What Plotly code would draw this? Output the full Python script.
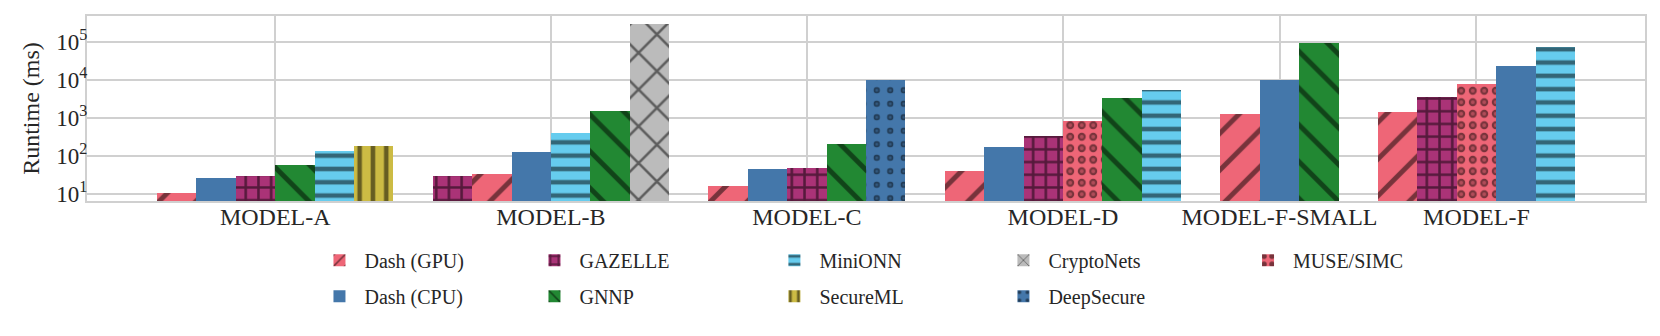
import plotly.graph_objects as go

# ---------------- data ----------------
categories = ["MODEL-A", "MODEL-B", "MODEL-C", "MODEL-D", "MODEL-F-SMALL", "MODEL-F"]

dash_gpu   = [10.6, 33, 16.2, 41, 1300, 1440]
dash_cpu   = [27, 130, 45.5, 169, 10000, 23300]
gazelle    = [30, 30, 49, 330, None, 3500]
gnnp       = [59, 1530, 211, 3360, 94000, None]
minionn    = [138, 395, None, 5560, None, 72400]
secureml   = [183, None, None, None, None, None]
cryptonets = [None, 290000, None, None, None, None]
deepsecure = [None, None, 10000, None, None, None]
muse_simc  = [None, None, None, 818, None, 7850]

series_names = ["Dash (GPU)", "Dash (CPU)", "GAZELLE", "GNNP", "MiniONN",
                "SecureML", "CryptoNets", "DeepSecure", "MUSE/SIMC"]
series_values = [dash_gpu, dash_cpu, gazelle, gnnp, minionn,
                 secureml, cryptonets, deepsecure, muse_simc]

y_tick_vals = [10, 100, 1000, 10000, 100000]
y_tick_text = ["10<sup>1</sup>", "10<sup>2</sup>", "10<sup>3</sup>", "10<sup>4</sup>", "10<sup>5</sup>"]

# ---------------- styles ----------------
colors = {
    "Dash (GPU)": "#EE6677", "Dash (CPU)": "#4477AA", "GAZELLE": "#AA3377",
    "GNNP": "#228833", "MiniONN": "#66CCEE", "SecureML": "#CCBB44",
    "CryptoNets": "#BBBBBB", "DeepSecure": "#4477AA", "MUSE/SIMC": "#EE6677",
}
patterns = {
    "Dash (GPU)": dict(shape="/", size=26, solidity=0.19),
    "Dash (CPU)": dict(shape=""),
    "GAZELLE":    dict(shape="+", size=12.7, solidity=0.36),
    "GNNP":       dict(shape="\\", size=26, solidity=0.19),
    "MiniONN":    dict(shape="-", size=13.3, solidity=0.34),
    "SecureML":   dict(shape="|", size=13.3, solidity=0.34),
    "CryptoNets": dict(shape="x", size=26, solidity=0.19),
    "DeepSecure": dict(shape=".", size=13.5, solidity=0.17),
    "MUSE/SIMC":  dict(shape=".", size=11.5, solidity=0.38),
}
# inner hole of the ring hatches
ring_holes = {
    "DeepSecure": dict(size=13.5, solidity=0.04),
    "MUSE/SIMC":  dict(size=11.5, solidity=0.09),
}
legend_columns = [["Dash (GPU)", "Dash (CPU)"], ["GAZELLE", "GNNP"],
                  ["MiniONN", "SecureML"], ["CryptoNets", "DeepSecure"], ["MUSE/SIMC"]]
legend_x = [0.146, 0.284, 0.438, 0.585, 0.742]

FONT = "Liberation Serif, Times New Roman, serif"
TXT = "#262626"
GRID = "#d0d0d0"

# ---------------- positions: bars sorted ascending inside each group ----------------
positions = {n: [None] * len(categories) for n in series_names}
tick_pos = []
start = 0
for gi, cat in enumerate(categories):
    present = [(series_values[si][gi], n) for si, n in enumerate(series_names)
               if series_values[si][gi] is not None]
    present.sort(key=lambda t: t[0])
    for rank, (v, n) in enumerate(present):
        positions[n][gi] = start + rank
    tick_pos.append(start + (len(present) - 1) / 2)
    start += len(present) + 1
last_bar = start - 2
pad = 1.78
x_range = [-0.5 - pad, last_bar + 0.5 + pad]

legend_of = {}
for ci, col in enumerate(legend_columns):
    for n in col:
        legend_of[n] = "legend" if ci == 0 else f"legend{ci + 1}"

fig = go.Figure()
for si, n in enumerate(series_names):
    xs = [positions[n][gi] for gi in range(len(categories)) if series_values[si][gi] is not None]
    ys = [series_values[si][gi] for gi in range(len(categories)) if series_values[si][gi] is not None]
    pat = dict(patterns[n])
    if pat.get("shape"):
        pat["fgcolor"] = "black"
    fig.add_trace(go.Bar(
        x=xs, y=ys, width=1, name=n, legend=legend_of[n], legendgroup=n,
        marker=dict(color=colors[n], line=dict(width=0), pattern=pat),
    ))
    if n in ring_holes:
        h = ring_holes[n]
        fig.add_trace(go.Bar(
            x=xs, y=ys, width=1, name=n, legend=legend_of[n], legendgroup=n, showlegend=False,
            hoverinfo="skip",
            marker=dict(color="rgba(0,0,0,0)", line=dict(width=0),
                        pattern=dict(shape=".", size=h["size"], solidity=h["solidity"],
                                     fgcolor=colors[n], bgcolor="rgba(0,0,0,0)",
                                     fillmode="overlay")),
        ))

legend_common = dict(
    orientation="v", xanchor="left", yanchor="top", y=-0.215,
    font=dict(family=FONT, size=20, color=TXT), bgcolor="rgba(0,0,0,0)",
    traceorder="grouped", tracegroupgap=7, itemwidth=40, itemclick=False,
)
layout_legends = {}
for ci in range(len(legend_columns)):
    key = "legend" if ci == 0 else f"legend{ci + 1}"
    layout_legends[key] = dict(legend_common, x=legend_x[ci])

# the page body adds an 8 px margin; the figure is sized so the plot lands in place
fig.update_layout(
    width=1652, height=328,
    margin=dict(l=79, r=15, t=8, b=135, autoexpand=False),
    paper_bgcolor="white", plot_bgcolor="white",
    barmode="overlay", bargap=0,
    font=dict(family=FONT, size=20, color=TXT),
    xaxis=dict(
        range=x_range, tickmode="array", tickvals=tick_pos, ticktext=categories,
        showgrid=True, gridcolor=GRID, gridwidth=1.5, zeroline=False,
        showline=True, linecolor=GRID, linewidth=2, mirror=True, automargin=False,
        ticks="", ticklabelstandoff=-7, tickfont=dict(family=FONT, size=24, color=TXT),
    ),
    yaxis=dict(
        type="log", range=[0.816, 5.684], tickmode="array",
        tickvals=y_tick_vals, ticktext=y_tick_text,
        showgrid=True, gridcolor=GRID, gridwidth=1.5, zeroline=False,
        showline=True, linecolor=GRID, linewidth=2, mirror=True, automargin=False,
        ticks="", ticklabelstandoff=-7, tickfont=dict(family=FONT, size=23, color=TXT),
        title=dict(text="Runtime (ms)", font=dict(family=FONT, size=24, color=TXT), standoff=10),
    ),
    showlegend=True,
    **layout_legends,
)

fig.write_html("out.html")
